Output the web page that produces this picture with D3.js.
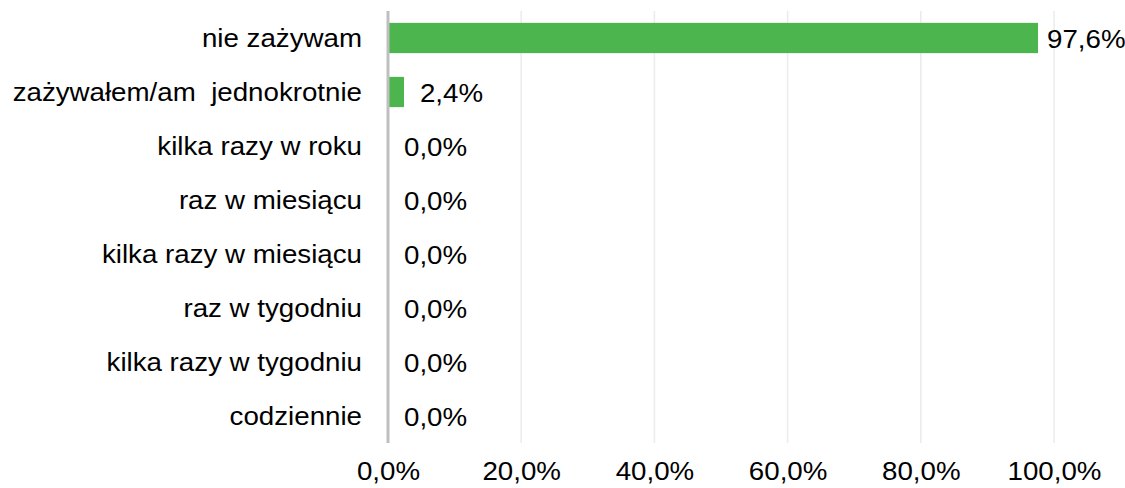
<!DOCTYPE html>
<html><head><meta charset="utf-8">
<script src="https://cdn.jsdelivr.net/npm/d3@7"></script>
<style>body{margin:0;background:#fff;} text{font-family:"Liberation Sans",Arial,sans-serif;white-space:pre;}</style>
</head><body>
<svg id="c" width="1125" height="488"></svg>
<script>
const categories = ["nie zażywam","zażywałem/am  jednokrotnie","kilka razy w roku","raz w miesiącu","kilka razy w miesiącu","raz w tygodniu","kilka razy w tygodniu","codziennie"];
const values = [97.6, 2.4, 0, 0, 0, 0, 0, 0];
const ticks = [0, 20, 40, 60, 80, 100];
const fmt = v => v.toFixed(1).replace(".", ",") + "%";

const svg = d3.select("#c");
const x = d3.scaleLinear().domain([0, 100]).range([388, 1054]);
const y = d3.scaleBand().domain(categories).range([11, 443]).paddingInner(0.44).paddingOuter(0.22);
const fs = 26;
const stretch = 1.065;
function widen(sel) {
  sel.each(function() {
    const w = this.getComputedTextLength();
    d3.select(this).attr("textLength", w * stretch).attr("lengthAdjust", "spacingAndGlyphs");
  });
}

// gridlines
svg.append("g").selectAll("line").data(ticks.filter(t => t > 0)).join("line")
  .attr("x1", d => x(d)).attr("x2", d => x(d)).attr("y1", 11).attr("y2", 443)
  .attr("stroke", "#ebebeb").attr("stroke-width", 1.5);

// bars
svg.append("g").selectAll("rect").data(values).join("rect")
  .attr("x", x(0)).attr("y", (d, i) => y(categories[i]))
  .attr("width", d => x(d) - x(0)).attr("height", y.bandwidth())
  .attr("fill", "#4db54d");

// axis line
svg.append("line").attr("x1", x(0)).attr("x2", x(0)).attr("y1", 11).attr("y2", 443)
  .attr("stroke", "#bfbfbf").attr("stroke-width", 3);

// x axis
const xAxis = d3.axisBottom(x).tickValues(ticks).tickFormat(fmt).tickSize(0).tickPadding(0);
const gx = svg.append("g").attr("transform", "translate(0,462)").call(xAxis);
gx.select(".domain").remove();
gx.selectAll("text").attr("font-size", fs).attr("fill", "#000").attr("font-family", "Liberation Sans, Arial, sans-serif").attr("dy", "0.71em").call(widen);

// y axis labels
const yAxis = d3.axisLeft(y).tickSize(0).tickPadding(26);
const gy = svg.append("g").attr("transform", `translate(${x(0)},0)`).call(yAxis);
gy.select(".domain").remove();
gy.selectAll("text").attr("font-size", fs).attr("fill", "#000").attr("font-family", "Liberation Sans, Arial, sans-serif").attr("dy", "0.36em").call(widen);

// value labels
svg.append("g").selectAll("text").data(values).join("text")
  .attr("x", d => x(d) + (d > 50 ? 9 : 16))
  .attr("y", (d, i) => y(categories[i]) + y.bandwidth() / 2)
  .attr("dy", "0.4em")
  .attr("font-size", fs).attr("fill", "#000")
  .text(fmt).call(widen);
</script>
</body></html>
